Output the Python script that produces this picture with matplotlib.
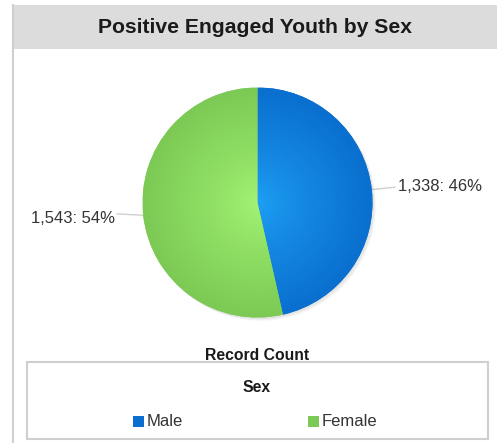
import numpy as np
import matplotlib
matplotlib.use("Agg")
import matplotlib.pyplot as plt
from matplotlib.patches import Rectangle
from matplotlib.colors import to_rgb

plt.rcParams['font.family'] = ['Liberation Sans', 'DejaVu Sans']

title = "Positive Engaged Youth by Sex"
categories = ["Male", "Female"]
counts = [1338, 1543]
edge_colors = ["#0a6fcf", "#7cca55"]
center_colors = ["#1ea0f5", "#a4f574"]
legend_title = "Sex"
measure_name = "Record Count"

W, H = 497, 443
fig = plt.figure(figsize=(W / 100, H / 100), dpi=100)

# Overlay axes in pixel coordinates (origin at top-left)
bg = fig.add_axes([0, 0, 1, 1])
bg.set_xlim(0, W)
bg.set_ylim(H, 0)
bg.axis("off")

# panel header and borders
bg.add_patch(Rectangle((12, 5), W - 12, 44, facecolor="#dcdcdc", edgecolor="none"))
bg.plot([12.5, 12.5], [5, H], color="#cfcfcf", lw=1.5)
bg.text(255, 27, title, ha="center", va="center", fontsize=15.2,
        fontweight="bold", color="#1a1a1a")

# pie geometry (pixels)
cx, cy, R = 257.5, 202.5, 115
pie_ax = fig.add_axes([(cx - R * 1.05) / W, (H - cy - R * 1.05) / H,
                       2.1 * R / W, 2.1 * R / H])
pie_ax.axis("off")

# soft drop shadow
for k, a in enumerate([0.05, 0.05, 0.06]):
    off = 0.012 + 0.008 * k
    pie_ax.add_patch(plt.Circle((off, -off), 1.0, color="#555555", alpha=a, lw=0))

wedges, _ = pie_ax.pie(counts, colors=edge_colors, startangle=90, counterclock=False,
                       radius=1.0, wedgeprops=dict(linewidth=0))
pie_ax.set_xlim(-1.05, 1.05)
pie_ax.set_ylim(-1.05, 1.05)

# radial gradient fill clipped to each wedge
n = 400
xs = np.linspace(-1, 1, n)
X, Y = np.meshgrid(xs, xs)
rr = np.clip(np.sqrt(X ** 2 + Y ** 2), 0, 1)
for w, c0, c1 in zip(wedges, center_colors, edge_colors):
    a0, a1 = np.array(to_rgb(c0)), np.array(to_rgb(c1))
    t = rr[..., None] ** 0.8
    img = a0 * (1 - t) + a1 * t
    im = pie_ax.imshow(img, extent=(-1, 1, -1, 1), origin="lower", zorder=2,
                       interpolation="bilinear")
    im.set_clip_path(w)

# value labels with leader lines
total = sum(counts)
for w, v in zip(wedges, counts):
    theta = np.deg2rad((w.theta1 + w.theta2) / 2)
    px = cx + R * np.cos(theta)
    py = cy - R * np.sin(theta)
    label = f"{v:,}: {round(100 * v / total)}%"
    if np.cos(theta) >= 0:
        bg.plot([px, px + 23], [py, py - 2.5], color="#d0d0d0", lw=1)
        bg.text(px + 26, py - 3, label, ha="left", va="center", fontsize=12, color="#333333")
    else:
        bg.plot([px, px - 26], [py, py - 1.5], color="#d0d0d0", lw=1)
        bg.text(px - 28, py + 3, label, ha="right", va="center", fontsize=12, color="#333333")

# measure name and legend box
bg.text(257, 355, measure_name, ha="center", va="center", fontsize=11.3,
        fontweight="bold", color="#1a1a1a")
bg.add_patch(Rectangle((27, 362), 461, 77, facecolor="white", edgecolor="#cfcfcf", lw=1.5))
bg.text(257, 387, legend_title, ha="center", va="center", fontsize=11.3,
        fontweight="bold", color="#1a1a1a")
legend_x = [133, 308]
for x0, cat, col in zip(legend_x, categories, edge_colors):
    bg.add_patch(Rectangle((x0, 415.5), 11, 11, facecolor=col, edgecolor="none"))
    bg.text(x0 + 14, 422, cat, ha="left", va="center", fontsize=12, color="#333333")

fig.savefig("out.png", dpi=100)
